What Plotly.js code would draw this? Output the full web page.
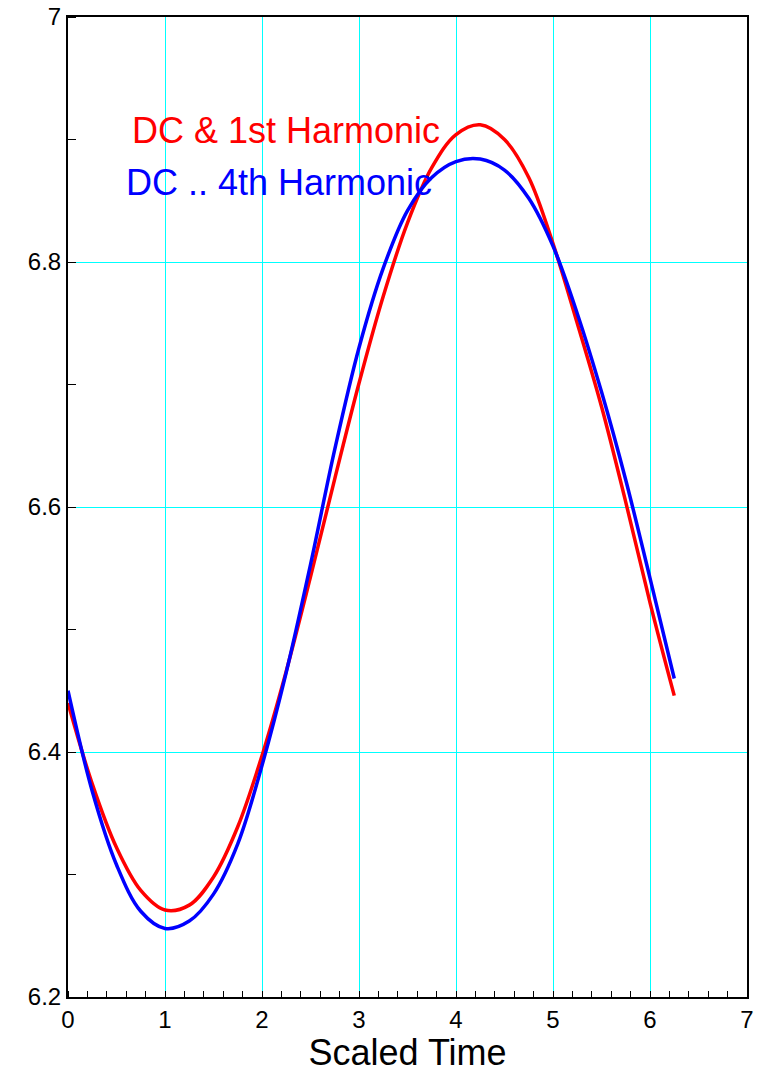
<!DOCTYPE html>
<html>
<head>
<meta charset="utf-8">
<script src="https://cdn.plot.ly/plotly-3.0.1.min.js"></script>
<style>html,body{margin:0;padding:0;background:#fff;}#chart{width:762px;height:1073px;}</style>
</head>
<body>
<div id="chart"></div>
<script>
// Scaled time samples
const time = [0, 0.25, 0.5, 0.75, 1.0, 1.25, 1.5, 1.75, 2.0, 2.25, 2.5, 2.75, 3.0,
              3.25, 3.5, 3.75, 4.0, 4.25, 4.5, 4.75, 5.0, 5.25, 5.5, 5.75, 6.0, 6.25];
// DC & 1st harmonic (red)
const dcFirst = [6.440, 6.374, 6.322, 6.287, 6.271, 6.275, 6.298, 6.339, 6.397, 6.466,
                 6.543, 6.623, 6.701, 6.772, 6.832, 6.877, 6.904, 6.912, 6.900, 6.869,
                 6.815, 6.750, 6.682, 6.604, 6.522, 6.446];
// DC .. 4th harmonic (blue)
const dcFourth = [6.450, 6.368, 6.308, 6.270, 6.256, 6.262, 6.284, 6.325, 6.389, 6.465,
                  6.553, 6.647, 6.730, 6.795, 6.842, 6.869, 6.882, 6.884, 6.875, 6.852,
                  6.813, 6.758, 6.694, 6.622, 6.542, 6.460];
const xTicks = [0, 1, 2, 3, 4, 5, 6, 7];
const yTicks = [6.2, 6.4, 6.6, 6.8, 7];
const yTickText = ['6.2', '6.4', '6.6', '6.8', '7'];
const seriesNames = ['DC & 1st Harmonic', 'DC .. 4th Harmonic'];

const font = 'Liberation Sans, Arial, Helvetica, sans-serif';

const traces = [
  {x: time, y: dcFirst, mode: 'lines', name: seriesNames[0],
   line: {color: '#ff0000', width: 3.5, shape: 'spline', smoothing: 1}},
  {x: time, y: dcFourth, mode: 'lines', name: seriesNames[1],
   line: {color: '#0000ff', width: 3.5, shape: 'spline', smoothing: 1}}
];

const layout = {
  width: 762, height: 1073,
  margin: {l: 68, r: 15, t: 17, b: 76},
  paper_bgcolor: '#fff', plot_bgcolor: '#fff',
  showlegend: false,
  font: {family: font, color: '#000', size: 24},
  xaxis: {
    range: [0, 7], tickvals: xTicks, ticktext: xTicks.map(String),
    showgrid: true, gridcolor: '#00ffff', gridwidth: 1,
    zeroline: false, showline: true, mirror: true, linecolor: '#000', linewidth: 2,
    ticks: '', tickfont: {size: 24, family: font, color: '#000'},
    minor: {dtick: 0.2, tick0: 0, ticks: 'inside', ticklen: 6, tickcolor: '#000', tickwidth: 1, showgrid: false},
    title: {text: 'Scaled Time', font: {size: 36, family: font, color: '#000'}, standoff: 7}
  },
  yaxis: {
    range: [6.2, 7], tickvals: yTicks, ticktext: yTickText,
    showgrid: true, gridcolor: '#00ffff', gridwidth: 1,
    zeroline: false, showline: true, mirror: true, linecolor: '#000', linewidth: 2,
    ticks: '', tickfont: {size: 24, family: font, color: '#000'},
    minor: {dtick: 0.1, tick0: 6.2, ticks: 'inside', ticklen: 8, tickcolor: '#000', tickwidth: 1, showgrid: false}
  },
  annotations: [
    {x: 0.64, y: 6.907, xref: 'x', yref: 'y', xanchor: 'left', yanchor: 'middle',
     text: seriesNames[0], showarrow: false, font: {size: 36, family: font, color: '#ff0000'}},
    {x: 0.58, y: 6.865, xref: 'x', yref: 'y', xanchor: 'left', yanchor: 'middle',
     text: seriesNames[1], showarrow: false, font: {size: 36, family: font, color: '#0000ff'}}
  ]
};

Plotly.newPlot('chart', traces, layout, {staticPlot: true, displayModeBar: false});
</script>
</body>
</html>
